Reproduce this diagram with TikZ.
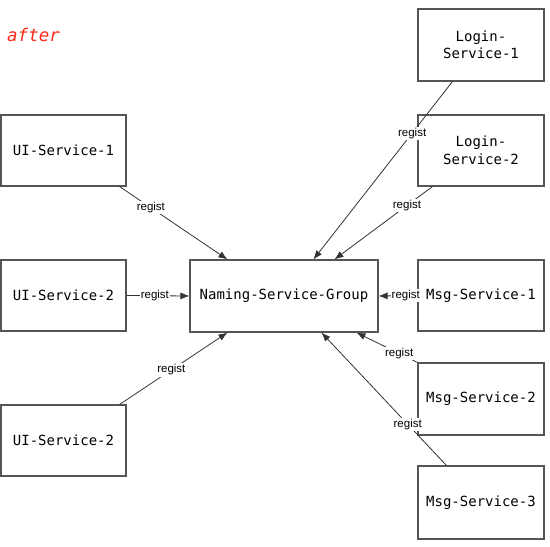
\documentclass[tikz,border=0pt]{standalone}
\usepackage{fontspec}
\setmainfont{Liberation Sans}
\newfontfamily\boxfont{DejaVu Sans Mono}
\usetikzlibrary{arrows.meta}
\definecolor{boxline}{HTML}{555555}
\definecolor{edgeline}{HTML}{333333}
\definecolor{afterred}{HTML}{FF2A1A}
\tikzset{
  svc/.style={draw=boxline, line width=1.1pt, minimum width=125pt, minimum height=71pt, inner sep=0pt, align=center, font=\boxfont\fontsize{14}{17.5}\selectfont},
  reg/.style={draw=edgeline, line width=0.8pt, -{Latex[length=9pt,width=7pt]}},
  lbl/.style={fill=white, inner sep=1.2pt, font=\fontsize{11.5}{13}\selectfont, text=black}
}
\begin{document}
\begin{tikzpicture}[x=1pt,y=-1pt]
\useasboundingbox (0,0) rectangle (550,547);
\fill[white] (0,0) rectangle (550,547);
\node[anchor=west, text=afterred, inner sep=0pt, font=\boxfont\itshape\fontsize{17.5}{20}\selectfont] (after) at (7,35) {after};
\node[svc] (ui1) at (63.5,150.5) {UI-Service-1};
\node[svc] (ui2) at (63.5,295.5) {UI-Service-2};
\node[svc] (ui3) at (63.5,440.5) {UI-Service-2};
\node[svc, minimum width=188pt, minimum height=72pt] (nm) at (284,296) {Naming-Service-Group};
\node[svc, minimum width=126pt, minimum height=72pt] (lg1) at (481,45) {Login-\\Service-1};
\node[svc, minimum width=126pt] (lg2) at (481,150.5) {Login-\\Service-2};
\node[svc, minimum width=126pt] (ms1) at (481,295.5) {Msg-Service-1};
\node[svc, minimum width=126pt, minimum height=72pt] (ms2) at (481,399) {Msg-Service-2};
\node[svc, minimum width=126pt, minimum height=73pt] (ms3) at (481,502.5) {Msg-Service-3};
% edges
\draw[reg] ([xshift=-7pt]ui1.south east) -- node[lbl, pos=0.29] {regist} ([xshift=38pt]nm.north west);
\draw[reg] (ui2.east) -- node[lbl, pos=0.45] {regist} (nm.west);
\draw[reg] ([xshift=-7pt]ui3.north east) -- node[lbl, pos=0.48] {regist} ([xshift=38pt]nm.south west);
\draw[reg] ([xshift=35pt]lg1.south west) -- node[lbl, pos=0.29] {regist} ([xshift=124pt]nm.north west);
\draw[reg] ([xshift=15pt]lg2.south west) -- node[lbl, pos=0.26] {regist} ([xshift=145pt]nm.north west);
\draw[reg] (ms1.west) -- node[lbl, pos=0.3] {regist} (nm.east);
\draw[reg] (ms2.north west) -- node[lbl, pos=0.3] {regist} ([xshift=167pt]nm.south west);
\draw[reg] ([xshift=29pt]ms3.north west) -- node[lbl, pos=0.31] {regist} ([xshift=132pt]nm.south west);
\end{tikzpicture}
\end{document}
